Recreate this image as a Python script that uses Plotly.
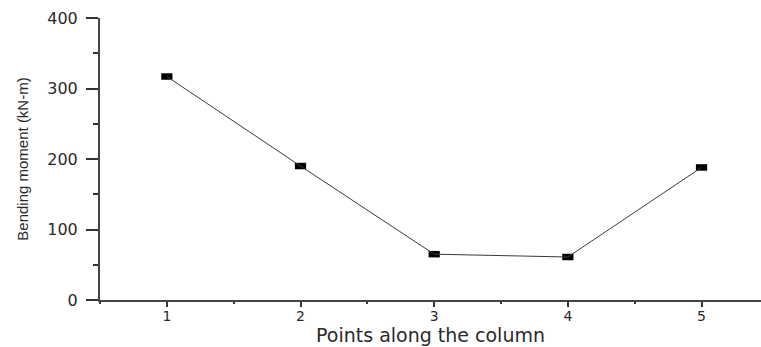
import plotly.graph_objects as go

# Bending moment measured at points along the column
points = [1, 2, 3, 4, 5]
moment_kNm = [317, 190, 65, 61, 188]

x_ticks = [1, 2, 3, 4, 5]
y_ticks = [0, 100, 200, 300, 400]

ink = "#2a2a2a"

fig = go.Figure()
fig.add_trace(go.Scatter(
    x=points,
    y=moment_kNm,
    mode="lines",
    line=dict(color="#3a3a3a", width=1),
    # flat black rectangles drawn as thick horizontal error bars
    error_x=dict(type="constant", value=0.042, thickness=6.5, width=0,
                 color="black"),
    showlegend=False,
    hoverinfo="x+y",
))

fig.update_layout(
    width=761,
    height=347,
    margin=dict(l=100, r=0, t=18, b=47),
    paper_bgcolor="white",
    plot_bgcolor="white",
    font=dict(family="DejaVu Sans", color=ink),
)

fig.update_xaxes(
    range=[0.5, 5.445],
    tickvals=x_ticks,
    ticktext=[str(v) for v in x_ticks],
    ticks="outside",
    ticklen=5,
    tickwidth=1.5,
    tickcolor="#333",
    ticklabelstandoff=-3,
    tickfont=dict(family="DejaVu Sans", size=14, color=ink),
    minor=dict(dtick=0.5, tick0=0.5, ticks="outside", ticklen=2,
               tickwidth=1.5, tickcolor="#333"),
    showline=True,
    linecolor="#444",
    linewidth=2,
    showgrid=False,
    zeroline=False,
    title=dict(text="Points along the column",
               font=dict(family="DejaVu Sans", size=19, color=ink),
               standoff=4),
    automargin=False,
)

fig.update_yaxes(
    range=[0, 400],
    tickvals=y_ticks,
    ticktext=[str(v) for v in y_ticks],
    ticks="outside",
    ticklen=12,
    tickwidth=1.5,
    tickcolor="#333",
    ticklabelstandoff=5,
    tickfont=dict(family="DejaVu Sans", size=16, color=ink),
    minor=dict(dtick=50, tick0=0, ticks="outside", ticklen=5,
               tickwidth=1.5, tickcolor="#333"),
    showline=True,
    linecolor="#444",
    linewidth=2,
    showgrid=False,
    zeroline=False,
    title=dict(text="Bending moment (kN-m)",
               font=dict(family="Liberation Sans", size=15, color=ink),
               standoff=15),
    automargin=False,
)

fig.write_html("out.html")
